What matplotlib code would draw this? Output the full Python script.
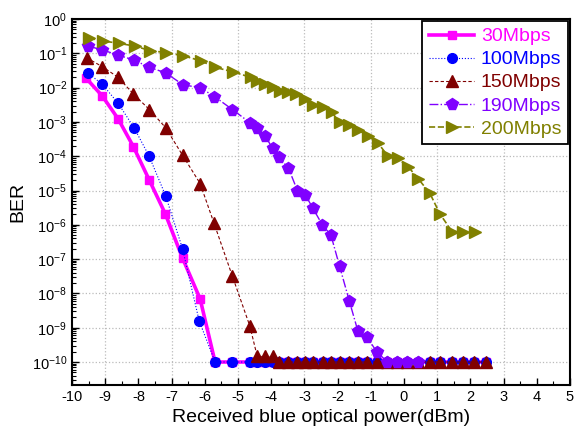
import matplotlib
matplotlib.use("Agg")
import matplotlib.pyplot as plt
from matplotlib.ticker import LogLocator, MultipleLocator, NullFormatter

plt.rcParams['font.family'] = ['Liberation Sans', 'DejaVu Sans']
plt.rcParams['mathtext.fontset'] = 'custom'
plt.rcParams['mathtext.rm'] = 'Liberation Sans'
plt.rcParams['axes.unicode_minus'] = False

# bottom floor positions shared by several curves
floor_x = [-5.17, -4.64, -4.42, -4.19, -3.95, -3.75, -3.48, -3.22, -2.97, -2.73,
           -2.45, -2.19, -1.93, -1.65, -1.38, -1.1, -0.8, -0.5, -0.2, 0.1,
           0.43, 0.77, 1.08, 1.44, 1.77, 2.12, 2.46]

x_30 = [-9.59, -9.09, -8.61, -8.15, -7.67, -7.19, -6.67, -6.14, -5.69] + floor_x
ber_30 = [1.95e-2, 5.75e-3, 1.23e-3, 1.9e-4, 2.0e-5, 2.1e-6, 1.07e-7, 6.9e-9, 1e-10] + [1e-10] * len(floor_x)

x_100 = [-9.53, -9.09, -8.61, -8.12, -7.68, -7.18, -6.67, -6.17, -5.69] + floor_x
ber_100 = [2.7e-2, 1.26e-2, 3.5e-3, 6.5e-4, 1.02e-4, 7.1e-6, 2.0e-7, 1.6e-9, 1e-10] + [1e-10] * len(floor_x)

x_150 = [-9.56, -9.09, -8.61, -8.15, -7.67, -7.18, -6.67, -6.14, -5.72, -5.17,
         -4.64, -4.42, -4.19, -3.95] + floor_x[5:]
ber_150 = [7.4e-2, 4.1e-2, 2.0e-2, 6.5e-3, 2.3e-3, 6.8e-4, 1.07e-4, 1.6e-5, 1.1e-6, 3.2e-8,
           1.1e-9, 1.45e-10, 1.45e-10, 1.45e-10] + [1e-10] * len(floor_x[5:])

x_190 = [-9.51, -9.09, -8.61, -8.12, -7.67, -7.18, -6.65, -6.14, -5.71, -5.17,
         -4.64, -4.42, -4.18, -3.96, -3.77, -3.48, -3.21, -2.97, -2.74, -2.46,
         -2.20, -1.94, -1.65, -1.39, -1.11, -0.82, -0.5, -0.22, 0.1, 0.43]
ber_190 = [0.162, 0.126, 0.089, 0.063, 0.039, 0.027, 0.012, 0.010, 5.5e-3, 2.3e-3,
           9.5e-4, 6.8e-4, 3.9e-4, 1.7e-4, 9.3e-5, 4.5e-5, 1.0e-5, 7.4e-6, 3.0e-6, 1.0e-6,
           5.0e-7, 6.2e-8, 6.2e-9, 8.1e-10, 5.2e-10, 2.0e-10, 1e-10, 1e-10, 1e-10, 1e-10]

x_200 = [-9.49, -9.06, -8.58, -8.10, -7.65, -7.17, -6.65, -6.11, -5.69, -5.16,
         -4.62, -4.42, -4.19, -3.94, -3.73, -3.48, -3.25, -2.98, -2.73, -2.45,
         -2.18, -1.93, -1.65, -1.38, -1.08, -0.79, -0.49, -0.19, 0.13, 0.43,
         0.78, 1.08, 1.45, 1.78, 2.14]
ber_200 = [0.275, 0.229, 0.195, 0.162, 0.120, 0.105, 0.085, 0.060, 0.039, 0.029,
           0.020, 0.016, 0.013, 0.0102, 8.1e-3, 7.6e-3, 6.5e-3, 4.7e-3, 3.1e-3, 2.7e-3,
           1.9e-3, 9.8e-4, 8.1e-4, 5.8e-4, 3.9e-4, 2.5e-4, 1.02e-4, 8.7e-5, 4.9e-5, 2.2e-5,
           8.3e-6, 2.1e-6, 6.3e-7, 6.3e-7, 6.3e-7]

fig = plt.figure(figsize=(5.74, 4.34), dpi=100)
ax = fig.add_axes([0.1254, 0.1129, 0.8676, 0.8433])

ax.plot(x_30, ber_30, color='#ff00ff', lw=2.6, marker='s', ms=6, label='30Mbps')
ax.plot(x_100, ber_100, color='#0000ff', lw=0.8, ls=':', marker='o', ms=7, label='100Mbps')
ax.plot(x_150, ber_150, color='#800000', lw=0.8, ls=(0, (3, 2)), marker='^', ms=8, label='150Mbps')
ax.plot(x_190, ber_190, color='#8000ff', lw=1.0, ls='-.', marker='p', ms=8.5, label='190Mbps')
ax.plot(x_200, ber_200, color='#808000', lw=1.2, ls='--', marker='>', ms=8, label='200Mbps')

ax.set_yscale('log')
ax.set_xlim(-10, 5)
ax.set_ylim(10 ** -10.67, 1)
ax.set_xticks(range(-10, 6))
ax.xaxis.set_minor_locator(MultipleLocator(0.5))
ax.set_yticks([10.0 ** -k for k in range(0, 11)])
ax.yaxis.set_minor_locator(LogLocator(base=10, subs=range(2, 10), numticks=20))
ax.yaxis.set_minor_formatter(NullFormatter())
ax.tick_params(which='both', direction='in', labelsize=10.5, color='black')
ax.tick_params(which='major', length=5, width=1)
ax.tick_params(which='minor', length=3, width=0.8)

for xv in [-9, -7, -5, -3, -1, 1, 3]:
    ax.axvline(xv, color='#bbbbbb', ls=':', lw=0.9, zorder=0)
for k in range(1, 11):
    ax.axhline(10.0 ** -k, color='#bbbbbb', ls=':', lw=0.9, zorder=0)

for s in ax.spines.values():
    s.set_linewidth(1.5)

ax.set_xlabel('Received blue optical power(dBm)', fontsize=14)
ax.set_ylabel('BER', fontsize=14)

leg = ax.legend(loc='upper right', fontsize=14, labelcolor='linecolor', fancybox=False,
                edgecolor='black', framealpha=1, handlelength=2.3, handletextpad=0.35,
                borderaxespad=0.1, labelspacing=0.28, borderpad=0.35)
leg.get_frame().set_linewidth(1.3)

fig.savefig('out.png', dpi=100)
